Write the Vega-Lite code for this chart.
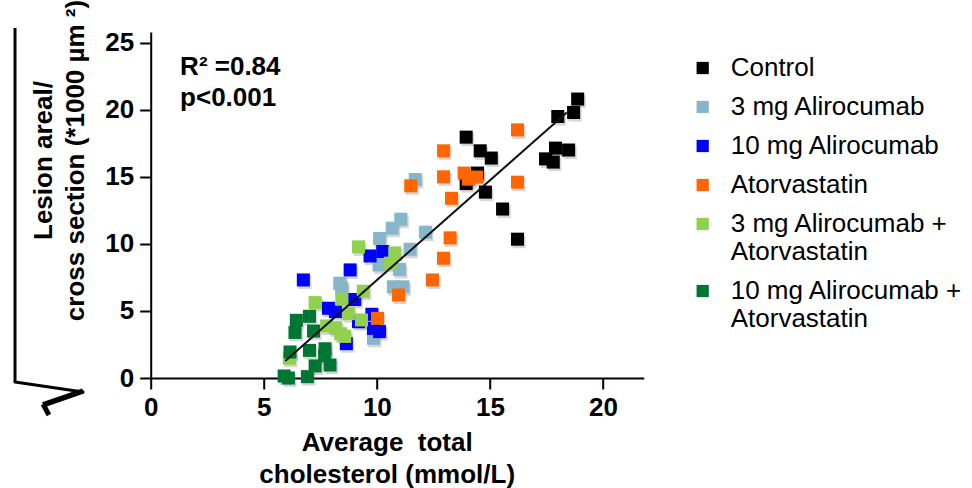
{
  "$schema": "https://vega.github.io/schema/vega-lite/v6.json",
  "width": 493,
  "height": 346,
  "autosize": {"type": "none"},
  "padding": {"left": 150.7, "top": 32, "right": 328.3, "bottom": 110},
  "background": "white",
  "config": {
    "view": {"stroke": null},
    "font": "Liberation Sans",
    "axis": {
      "grid": false,
      "domainColor": "#000",
      "domainWidth": 2,
      "tickColor": "#000",
      "tickWidth": 2,
      "tickSize": 11,
      "labelFont": "Liberation Sans",
      "labelFontSize": 26,
      "labelFontWeight": "bold",
      "labelColor": "#000",
      "labelFlush": false,
      "labelOverlap": false,
      "titleFont": "Liberation Sans",
      "titleFontSize": 26,
      "titleFontWeight": "bold",
      "titleColor": "#000"
    }
  },
  "datasets": {
    "points": [
      {"group": "Control", "chol": 18.88, "lesion": 20.8},
      {"group": "Control", "chol": 18.0, "lesion": 19.5},
      {"group": "Control", "chol": 18.7, "lesion": 19.8},
      {"group": "Control", "chol": 13.95, "lesion": 17.96},
      {"group": "Control", "chol": 14.57, "lesion": 16.94},
      {"group": "Control", "chol": 15.06, "lesion": 16.4},
      {"group": "Control", "chol": 17.9, "lesion": 17.14},
      {"group": "Control", "chol": 18.48, "lesion": 17.0},
      {"group": "Control", "chol": 17.46, "lesion": 16.34},
      {"group": "Control", "chol": 17.8, "lesion": 16.1},
      {"group": "Control", "chol": 14.45, "lesion": 15.28},
      {"group": "Control", "chol": 13.95, "lesion": 14.5},
      {"group": "Control", "chol": 14.8, "lesion": 13.86},
      {"group": "Control", "chol": 15.56, "lesion": 12.6},
      {"group": "Control", "chol": 16.22, "lesion": 10.35},
      {"group": "3 mg Alirocumab", "chol": 11.7, "lesion": 14.8},
      {"group": "3 mg Alirocumab", "chol": 11.06, "lesion": 11.84},
      {"group": "3 mg Alirocumab", "chol": 10.68, "lesion": 11.17},
      {"group": "3 mg Alirocumab", "chol": 10.12, "lesion": 10.4},
      {"group": "3 mg Alirocumab", "chol": 12.15, "lesion": 10.87},
      {"group": "3 mg Alirocumab", "chol": 11.47, "lesion": 9.6},
      {"group": "3 mg Alirocumab", "chol": 10.1, "lesion": 8.43},
      {"group": "3 mg Alirocumab", "chol": 11.0, "lesion": 8.1},
      {"group": "3 mg Alirocumab", "chol": 10.73, "lesion": 6.8},
      {"group": "3 mg Alirocumab", "chol": 11.15, "lesion": 6.8},
      {"group": "3 mg Alirocumab", "chol": 8.36, "lesion": 7.07},
      {"group": "3 mg Alirocumab", "chol": 8.45, "lesion": 6.7},
      {"group": "3 mg Alirocumab", "chol": 9.85, "lesion": 2.96},
      {"group": "10 mg Alirocumab", "chol": 6.75, "lesion": 7.31},
      {"group": "10 mg Alirocumab", "chol": 8.82, "lesion": 8.06},
      {"group": "10 mg Alirocumab", "chol": 9.7, "lesion": 9.1},
      {"group": "10 mg Alirocumab", "chol": 10.26, "lesion": 9.43},
      {"group": "10 mg Alirocumab", "chol": 7.86, "lesion": 5.2},
      {"group": "10 mg Alirocumab", "chol": 8.17, "lesion": 4.95},
      {"group": "10 mg Alirocumab", "chol": 9.02, "lesion": 5.85},
      {"group": "10 mg Alirocumab", "chol": 9.19, "lesion": 4.2},
      {"group": "10 mg Alirocumab", "chol": 9.78, "lesion": 4.75},
      {"group": "10 mg Alirocumab", "chol": 9.85, "lesion": 3.7},
      {"group": "10 mg Alirocumab", "chol": 10.12, "lesion": 3.46},
      {"group": "10 mg Alirocumab", "chol": 8.65, "lesion": 2.56},
      {"group": "Atorvastatin", "chol": 16.22, "lesion": 18.5},
      {"group": "Atorvastatin", "chol": 12.95, "lesion": 16.94},
      {"group": "Atorvastatin", "chol": 12.95, "lesion": 15.0},
      {"group": "Atorvastatin", "chol": 13.86, "lesion": 15.28},
      {"group": "Atorvastatin", "chol": 14.05, "lesion": 14.83},
      {"group": "Atorvastatin", "chol": 14.42, "lesion": 14.98},
      {"group": "Atorvastatin", "chol": 16.22, "lesion": 14.6},
      {"group": "Atorvastatin", "chol": 11.5, "lesion": 14.33},
      {"group": "Atorvastatin", "chol": 13.3, "lesion": 13.4},
      {"group": "Atorvastatin", "chol": 13.24, "lesion": 10.45},
      {"group": "Atorvastatin", "chol": 12.95, "lesion": 8.93},
      {"group": "Atorvastatin", "chol": 12.46, "lesion": 7.31},
      {"group": "Atorvastatin", "chol": 10.96, "lesion": 6.19},
      {"group": "Atorvastatin", "chol": 10.03, "lesion": 4.45},
      {"group": "3 mg Alirocumab + Atorvastatin", "chol": 9.19, "lesion": 9.78},
      {"group": "3 mg Alirocumab + Atorvastatin", "chol": 10.79, "lesion": 9.33},
      {"group": "3 mg Alirocumab + Atorvastatin", "chol": 10.6, "lesion": 8.56},
      {"group": "3 mg Alirocumab + Atorvastatin", "chol": 9.4, "lesion": 6.47},
      {"group": "3 mg Alirocumab + Atorvastatin", "chol": 7.27, "lesion": 5.62},
      {"group": "3 mg Alirocumab + Atorvastatin", "chol": 8.45, "lesion": 5.87},
      {"group": "3 mg Alirocumab + Atorvastatin", "chol": 8.74, "lesion": 4.8},
      {"group": "3 mg Alirocumab + Atorvastatin", "chol": 9.32, "lesion": 4.33},
      {"group": "3 mg Alirocumab + Atorvastatin", "chol": 7.78, "lesion": 3.88},
      {"group": "3 mg Alirocumab + Atorvastatin", "chol": 8.18, "lesion": 3.75},
      {"group": "3 mg Alirocumab + Atorvastatin", "chol": 8.4, "lesion": 3.3},
      {"group": "3 mg Alirocumab + Atorvastatin", "chol": 8.58, "lesion": 3.1},
      {"group": "3 mg Alirocumab + Atorvastatin", "chol": 6.13, "lesion": 1.47},
      {"group": "10 mg Alirocumab + Atorvastatin", "chol": 6.44, "lesion": 4.3},
      {"group": "10 mg Alirocumab + Atorvastatin", "chol": 7.02, "lesion": 4.6},
      {"group": "10 mg Alirocumab + Atorvastatin", "chol": 6.38, "lesion": 3.4},
      {"group": "10 mg Alirocumab + Atorvastatin", "chol": 7.2, "lesion": 3.5},
      {"group": "10 mg Alirocumab + Atorvastatin", "chol": 6.16, "lesion": 1.94},
      {"group": "10 mg Alirocumab + Atorvastatin", "chol": 7.02, "lesion": 2.06},
      {"group": "10 mg Alirocumab + Atorvastatin", "chol": 7.71, "lesion": 2.18},
      {"group": "10 mg Alirocumab + Atorvastatin", "chol": 7.69, "lesion": 1.67},
      {"group": "10 mg Alirocumab + Atorvastatin", "chol": 7.93, "lesion": 0.97},
      {"group": "10 mg Alirocumab + Atorvastatin", "chol": 7.27, "lesion": 0.9},
      {"group": "10 mg Alirocumab + Atorvastatin", "chol": 5.9, "lesion": 0.15},
      {"group": "10 mg Alirocumab + Atorvastatin", "chol": 6.09, "lesion": 0.0},
      {"group": "10 mg Alirocumab + Atorvastatin", "chol": 6.93, "lesion": 0.1}
    ],
    "fit": [
      {"chol": 5.95, "lesion": 1.27},
      {"chol": 18.4, "lesion": 19.8}
    ]
  },
  "layer": [
    {
      "data": {"name": "points"},
      "mark": {"type": "point", "shape": "square", "filled": true, "size": 170, "color": "#777", "opacity": 0.3, "xOffset": 1.5, "yOffset": 2.5},
      "encoding": {
        "x": {
          "field": "chol", "type": "quantitative",
          "scale": {"domain": [0, 21.8], "nice": false, "zero": false},
          "axis": {"values": [0, 5, 10, 15, 20], "labelPadding": 5, "title": ["Average \u00a0total", "cholesterol (mmol/L)"], "titleLineHeight": 32, "titleBaseline": "alphabetic", "titleX": 236, "titleY": 72, "titleAlign": "center"}
        },
        "y": {
          "field": "lesion", "type": "quantitative",
          "scale": {"domain": [0, 25.8], "nice": false, "zero": false},
          "axis": {"values": [0, 5, 10, 15, 20, 25], "labelPadding": 6, "title": ["Lesion areal/", "cross section (*1000 µm ²)"], "titleLineHeight": 32, "titleBaseline": "alphabetic", "titleAngle": 270, "titleX": -99, "titleY": 128, "titleAlign": "center"}
        }
      }
    },
    {
      "data": {"name": "points"},
      "mark": {"type": "point", "shape": "square", "filled": true, "size": 170, "opacity": 1},
      "encoding": {
        "x": {"field": "chol", "type": "quantitative"},
        "y": {"field": "lesion", "type": "quantitative"},
        "color": {
          "field": "group", "type": "nominal",
          "scale": {
            "domain": ["Control", "3 mg Alirocumab", "10 mg Alirocumab", "Atorvastatin", "3 mg Alirocumab + Atorvastatin", "10 mg Alirocumab + Atorvastatin"],
            "range": ["#000000", "#86B6CA", "#0000FF", "#FF6600", "#92D050", "#007635"]
          },
          "legend": {
            "title": null,
            "orient": "none",
            "legendX": 539,
            "legendY": 23,
            "padding": 0,
            "symbolType": "square",
            "symbolSize": 150,
            "symbolStrokeWidth": 0,
            "labelFont": "Liberation Sans",
            "labelFontSize": 26,
            "labelColor": "#000",
            "labelLimit": 400,
            "labelOffset": 15,
            "rowPadding": 13,
            "labelBaseline": "middle",
            "labelExpr": "datum.label == '3 mg Alirocumab + Atorvastatin' ? ['3 mg Alirocumab +', 'Atorvastatin'] : datum.label == '10 mg Alirocumab + Atorvastatin' ? ['10 mg Alirocumab +', 'Atorvastatin'] : datum.label"
          }
        }
      }
    },
    {
      "data": {"name": "fit"},
      "mark": {"type": "line", "color": "#111", "strokeWidth": 2},
      "encoding": {
        "x": {"field": "chol", "type": "quantitative"},
        "y": {"field": "lesion", "type": "quantitative"}
      }
    },
    {
      "data": {"values": [{"note": "R² =0.84"}]},
      "mark": {"type": "text", "align": "left", "baseline": "alphabetic", "fontSize": 26, "fontWeight": "bold", "font": "Liberation Sans", "color": "#000"},
      "encoding": {
        "x": {"datum": 1.3, "type": "quantitative"},
        "y": {"datum": 22.6, "type": "quantitative"},
        "text": {"field": "note"}
      }
    },
    {
      "data": {"values": [{"note": "p<0.001"}]},
      "mark": {"type": "text", "align": "left", "baseline": "alphabetic", "fontSize": 26, "fontWeight": "bold", "font": "Liberation Sans", "color": "#000"},
      "encoding": {
        "x": {"datum": 1.3, "type": "quantitative"},
        "y": {"datum": 20.25, "type": "quantitative"},
        "text": {"field": "note"}
      }
    },
    {
      "data": {"values": [{"part": "bar"}]},
      "mark": {"type": "rule", "color": "#000", "strokeWidth": 3},
      "encoding": {
        "x": {"datum": -6.0, "type": "quantitative"},
        "y": {"datum": -0.3, "type": "quantitative"},
        "y2": {"datum": 26.1}
      }
    },
    {
      "data": {"values": [{"part": "long stroke"}]},
      "mark": {"type": "rule", "color": "#000", "strokeWidth": 3, "strokeCap": "round"},
      "encoding": {
        "x": {"datum": -6.0, "type": "quantitative"},
        "x2": {"datum": -2.99},
        "y": {"datum": -0.3, "type": "quantitative"},
        "y2": {"datum": -1.04}
      }
    },
    {
      "data": {"values": [{"part": "short stroke"}]},
      "mark": {"type": "rule", "color": "#000", "strokeWidth": 5.5},
      "encoding": {
        "x": {"datum": -2.99, "type": "quantitative"},
        "x2": {"datum": -4.76},
        "y": {"datum": -0.97, "type": "quantitative"},
        "y2": {"datum": -2.01}
      }
    },
    {
      "data": {"values": [{"part": "tail"}]},
      "mark": {"type": "rule", "color": "#000", "strokeWidth": 5},
      "encoding": {
        "x": {"datum": -4.76, "type": "quantitative"},
        "x2": {"datum": -4.5},
        "y": {"datum": -1.95, "type": "quantitative"},
        "y2": {"datum": -2.76}
      }
    }
  ]
}
